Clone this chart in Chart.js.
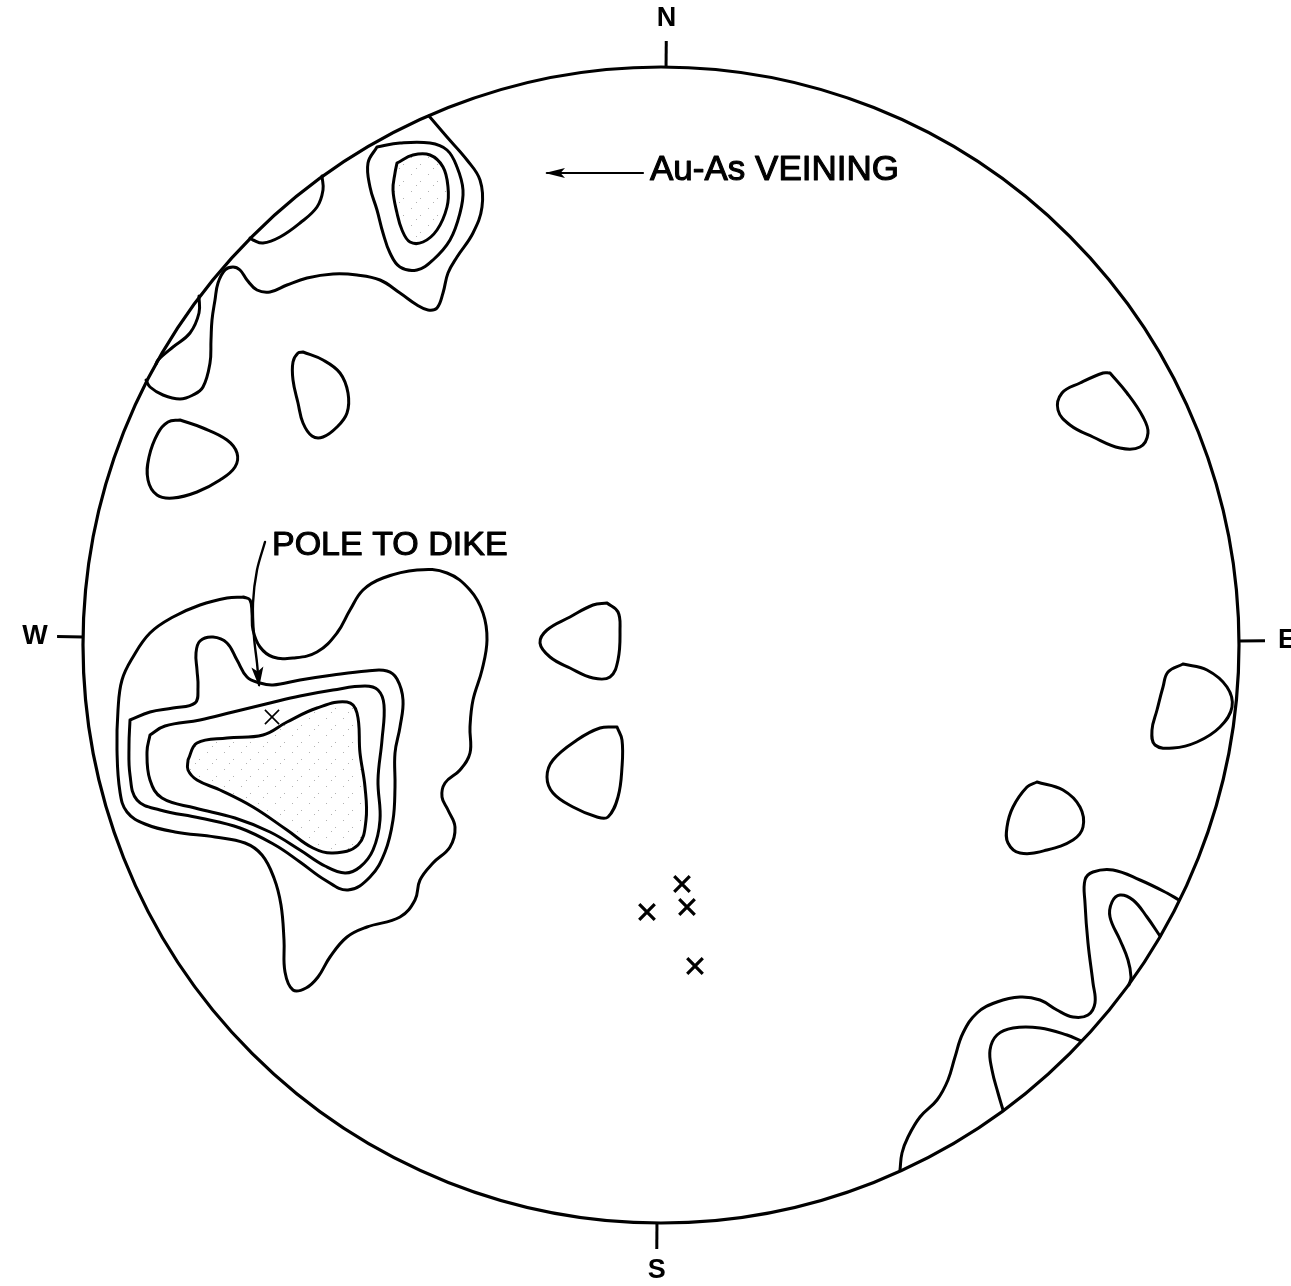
<!DOCTYPE html>
<html><head><meta charset="utf-8">
<script src="https://cdn.jsdelivr.net/npm/chart.js@4.4.1/dist/chart.umd.min.js"></script>
<style>html,body{margin:0;padding:0;background:#fff;overflow:hidden}canvas{display:block}</style>
</head><body>
<canvas id="c" width="1291" height="1286"></canvas>
<script>
// Stereonet coordinates: origin at net centre, y up, net radius = NET_RADIUS units
const NET_RADIUS = 578;
const compassLabels = ['N', 'E', 'S', 'W'];
const compassBearings = [0.5, 89.6, 180.4, 270.8];

// contours touching the primitive (open) and closed contours
const nwRim = [[-232,529],[-214,508],[-194,485],[-181,465],[-179,438],[-188,412],[-204,388],[-213,372],[-218,352],[-224,337],[-233,335],[-244,340],[-261,352],[-281,365],[-304,370],[-328,371],[-354,367],[-374,360],[-391,353],[-404,355],[-414,365],[-421,375],[-428,378],[-436,375],[-443,362],[-446,345],[-449,325],[-450,305],[-451,282],[-458,258],[-468,250],[-481,246],[-498,250],[-511,258],[-515,265]];
const nwLensUpper = [[-339,469],[-338,455],[-344,438],[-361,422],[-381,408],[-398,402],[-408,405],[-411,407]];
const nwLensLower = [[-462,349],[-462,332],[-471,312],[-488,298],[-503,285],[-505,281]];
const nwPeakMid = [[-284,498],[-261,502],[-231,502],[-214,495],[-204,478],[-198,455],[-201,432],[-211,405],[-228,385],[-244,375],[-261,378],[-271,392],[-278,412],[-284,435],[-291,458],[-293,482]];
const nwPeakCore = [[-264,482],[-248,490],[-231,490],[-218,478],[-213,458],[-214,438],[-224,415],[-238,403],[-251,403],[-259,415],[-264,432],[-268,455],[-266,472]];
const blobNNW = [[-358,293],[-338,285],[-321,272],[-313,252],[-314,232],[-324,218],[-338,208],[-349,209],[-358,222],[-363,242],[-368,265],[-368,283],[-363,292]];
const blobWNW = [[-481,225],[-458,217],[-434,205],[-424,192],[-426,178],[-441,165],[-464,153],[-488,147],[-504,150],[-513,165],[-512,188],[-503,212],[-493,223]];
const blobCentreUpper = [[-54,42],[-43,33],[-41,15],[-43,-15],[-51,-32],[-68,-33],[-91,-23],[-111,-12],[-121,2],[-114,15],[-91,28],[-68,40]];
const blobCentreLower = [[-44,-82],[-39,-95],[-39,-122],[-43,-152],[-53,-172],[-64,-172],[-88,-162],[-108,-148],[-114,-132],[-108,-115],[-84,-95],[-61,-83]];
const blobENE = [[449,272],[466,252],[482,228],[487,212],[479,198],[459,197],[432,208],[409,220],[397,235],[401,252],[419,262],[442,272]];
const blobE = [[522,-19],[546,-25],[566,-42],[571,-62],[559,-82],[536,-97],[512,-103],[494,-100],[491,-85],[496,-65],[502,-42],[507,-27]];
const blobESE = [[376,-137],[402,-145],[419,-162],[422,-182],[412,-195],[386,-205],[359,-208],[347,-198],[346,-182],[352,-162],[366,-142]];
const seRim = [[518,-255],[506,-248],[479,-235],[452,-225],[432,-227],[424,-235],[424,-258],[427,-298],[432,-338],[434,-358],[427,-370],[412,-372],[396,-365],[379,-355],[359,-352],[336,-357],[316,-368],[302,-388],[294,-412],[287,-435],[276,-455],[259,-472],[247,-492],[241,-508],[239,-525]];
const seInnerUpper = [[499,-291],[486,-272],[472,-255],[459,-250],[451,-257],[449,-272],[459,-295],[467,-315],[470,-332],[468,-340]];
const seInnerLower = [[420,-396],[406,-390],[379,-383],[352,-383],[336,-390],[329,-405],[331,-425],[337,-448],[342,-465]];
const wLevel1 = [[-418,48],[-411,45],[-409,32],[-408,15],[-401,-2],[-388,-12],[-368,-13],[-344,-7],[-324,12],[-311,35],[-298,55],[-278,67],[-244,75],[-214,72],[-191,55],[-178,32],[-174,5],[-179,-25],[-188,-55],[-191,-82],[-191,-108],[-201,-125],[-216,-138],[-219,-152],[-213,-165],[-206,-182],[-211,-202],[-228,-218],[-241,-235],[-246,-255],[-261,-272],[-294,-282],[-314,-292],[-331,-312],[-343,-332],[-355,-343],[-368,-345],[-376,-327],[-377,-295],[-380,-260],[-387,-233],[-399,-210],[-416,-198],[-446,-192],[-486,-187],[-516,-179],[-534,-167],[-541,-147],[-544,-105],[-543,-65],[-539,-35],[-528,-12],[-511,12],[-488,28],[-461,40],[-434,47]];
const wLevel2 = [[-531,-75],[-511,-67],[-488,-63],[-466,-58],[-463,-42],[-464,-25],[-465,-8],[-461,4],[-448,8],[-434,2],[-424,-15],[-414,-32],[-401,-38],[-388,-40],[-361,-35],[-328,-30],[-294,-26],[-274,-26],[-264,-34],[-258,-55],[-261,-82],[-266,-108],[-266,-142],[-268,-175],[-276,-207],[-291,-232],[-313,-245],[-336,-235],[-361,-217],[-386,-200],[-421,-183],[-461,-173],[-501,-165],[-524,-155],[-531,-130],[-532,-100]];
const wLevel3 = [[-511,-90],[-496,-81],[-461,-75],[-428,-67],[-391,-58],[-361,-51],[-328,-45],[-296,-41],[-283,-45],[-277,-60],[-279,-95],[-283,-135],[-281,-175],[-288,-205],[-301,-222],[-316,-228],[-336,-221],[-361,-205],[-391,-187],[-426,-173],[-466,-163],[-499,-153],[-511,-135],[-514,-107]];
const wLevel4 = [[-473,-115],[-464,-98],[-434,-93],[-398,-90],[-374,-77],[-344,-63],[-314,-57],[-304,-68],[-301,-108],[-296,-142],[-295,-175],[-303,-200],[-328,-208],[-348,-203],[-374,-185],[-408,-162],[-441,-145],[-464,-135],[-473,-125]];

// poles
const poleToDike = [[-389,-72]];
const otherPoles = [[21,-239],[26,-262],[-14,-267],[34,-321]];

// annotations
const annotationTexts = ['POLE TO DIKE', 'Au-As VEINING'];
const annotationAnchors = [[-389,99],[-11,475]];
const arrowPoleToDike = [[-396,103],[-404,75],[-408,42],[-407,8],[-404,-18],[-402,-40]];
const arrowVeining = [[-18,472],[-114,472]];

const openContours = [nwRim, nwLensUpper, nwLensLower, seRim, seInnerUpper, seInnerLower];
const closedContours = [nwPeakMid, blobNNW, blobWNW, blobCentreUpper, blobCentreLower, blobENE, blobE, blobESE, wLevel1, wLevel2, wLevel3];
const stippledContours = [nwPeakCore, wLevel4];

function makeStipple(){
  const c = document.createElement('canvas'); c.width = 17; c.height = 17;
  const g = c.getContext('2d'); g.fillStyle = 'rgba(0,0,0,0.3)';
  g.fillRect(3,4,1,1); g.fillRect(12,11,1,1); g.fillRect(8,15,1,1);
  return g.createPattern(c, 'repeat');
}
const stipple = makeStipple();

const toXY = pts => pts.map(([x,y]) => ({x, y}));
const lineDs = (pts, closed, extra) => Object.assign({
  data: toXY(closed ? pts.concat([pts[0]]) : pts),
  showLine: true, borderColor: '#000', borderWidth: 3, pointRadius: 0, pointHoverRadius: 0,
  tension: 0.4, fill: false
}, extra || {});

const datasets = [];
stippledContours.forEach(p => datasets.push(lineDs(p, true, {fill: 'shape', backgroundColor: stipple})));
openContours.forEach(p => datasets.push(lineDs(p, false)));
closedContours.forEach(p => datasets.push(lineDs(p, true)));
datasets.push(lineDs(arrowPoleToDike, false, {borderWidth: 2.4, tension: 0.3}));
datasets.push(lineDs(arrowVeining, false, {borderWidth: 2.2, tension: 0}));
datasets.push({data: toXY(otherPoles), showLine: false, pointStyle: 'crossRot', pointRadius: 11, pointBorderWidth: 3.2, pointBorderColor: '#000', pointBackgroundColor: '#000'});
datasets.push({data: toXY(poleToDike), showLine: false, pointStyle: 'crossRot', pointRadius: 10, pointBorderWidth: 1.6, pointBorderColor: '#000', pointBackgroundColor: '#000'});

const TICK = 26, LABEL_GAP = 48;
const netPlugin = {
  id: 'net',
  beforeDraw(chart){
    const {ctx, width, height} = chart;
    ctx.save(); ctx.fillStyle = '#fff'; ctx.fillRect(0, 0, width, height); ctx.restore();
  },
  afterDatasetsDraw(chart){
    const {ctx} = chart, xs = chart.scales.x, ys = chart.scales.y;
    const px = v => xs.getPixelForValue(v), py = v => ys.getPixelForValue(v);
    const cx = px(0), cy = py(0), r = px(NET_RADIUS) - cx;
    ctx.save();
    ctx.strokeStyle = '#000'; ctx.fillStyle = '#000'; ctx.lineWidth = 3.2;
    ctx.beginPath(); ctx.arc(cx, cy, r, 0, Math.PI * 2); ctx.stroke();
    ctx.font = 'bold 27px "Liberation Sans", Arial, sans-serif';
    ctx.textAlign = 'center'; ctx.textBaseline = 'middle';
    compassLabels.forEach((lab, i) => {
      const a = compassBearings[i] * Math.PI / 180, sx = Math.sin(a), sy = -Math.cos(a);
      ctx.lineWidth = 3;
      ctx.beginPath(); ctx.moveTo(cx + sx * r, cy + sy * r); ctx.lineTo(cx + sx * (r + TICK), cy + sy * (r + TICK)); ctx.stroke();
      ctx.fillText(lab, cx + sx * (r + LABEL_GAP), cy + sy * (r + LABEL_GAP));
    });
    // annotation labels
    const sizes = [34, 35];
    ctx.textAlign = 'left'; ctx.lineWidth = 1.1; ctx.lineJoin = 'round';
    annotationTexts.forEach((t, i) => {
      ctx.font = sizes[i] + 'px "Liberation Sans", Arial, sans-serif';
      const tx = px(annotationAnchors[i][0]), ty = py(annotationAnchors[i][1]);
      ctx.fillText(t, tx, ty);
      ctx.strokeText(t, tx, ty);
    });
    // arrowheads at the end of each arrow
    [[arrowPoleToDike, 18, 6], [arrowVeining, 18, 5]].forEach(([arr, len, hw]) => {
      const a = arr[arr.length - 2], b = arr[arr.length - 1];
      const x1 = px(a[0]), y1 = py(a[1]), x2 = px(b[0]), y2 = py(b[1]);
      const d = Math.hypot(x2 - x1, y2 - y1), ux = (x2 - x1) / d, uy = (y2 - y1) / d;
      ctx.beginPath();
      ctx.moveTo(x2 + ux * 2, y2 + uy * 2);
      ctx.lineTo(x2 - ux * len - uy * hw, y2 - uy * len + ux * hw);
      ctx.lineTo(x2 - ux * len * 0.75, y2 - uy * len * 0.75);
      ctx.lineTo(x2 - ux * len + uy * hw, y2 - uy * len - ux * hw);
      ctx.closePath(); ctx.fill();
    });
    ctx.restore();
  }
};

new Chart(document.getElementById('c'), {
  type: 'scatter',
  data: {datasets},
  options: {
    responsive: false, animation: false, devicePixelRatio: 1,
    layout: {padding: 0, autoPadding: false},
    elements: {line: {borderCapStyle: 'round', borderJoinStyle: 'round'}},
    scales: {
      x: {type: 'linear', min: -661, max: 630, display: false},
      y: {type: 'linear', min: -641, max: 645, display: false}
    },
    plugins: {legend: {display: false}, tooltip: {enabled: false}}
  },
  plugins: [netPlugin]
});
</script>
</body></html>
